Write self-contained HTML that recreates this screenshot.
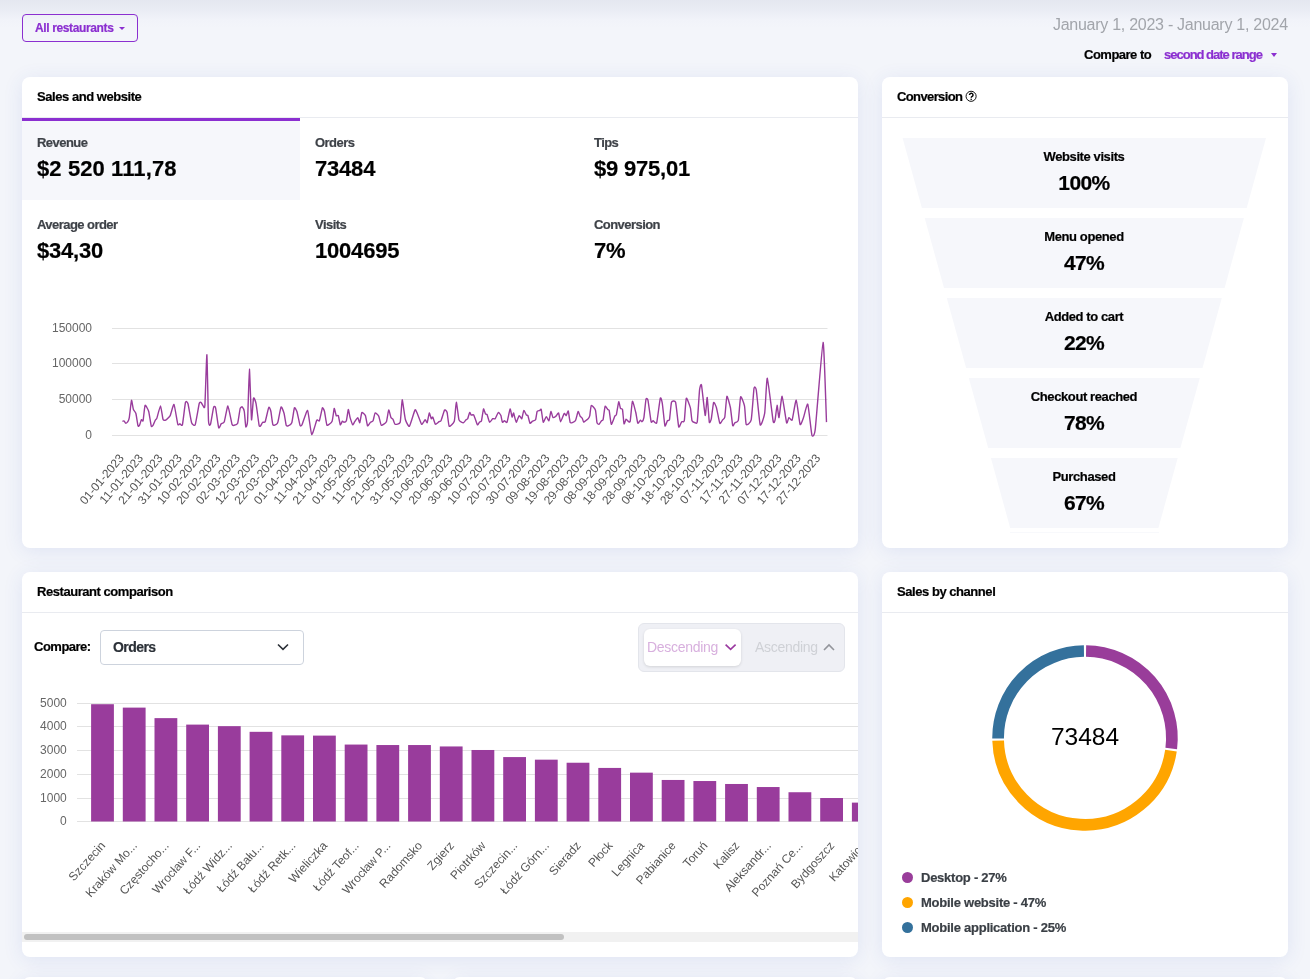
<!DOCTYPE html>
<html><head><meta charset="utf-8">
<style>
html,body{margin:0;padding:0;}
html{width:1310px;height:979px;overflow:hidden;}
body{-webkit-font-smoothing:antialiased;width:1310px;height:979px;overflow:hidden;font-family:"Liberation Sans", sans-serif;background:#f3f5fa;}
#root{position:relative;width:1310px;height:979px;overflow:hidden;background:#f3f5fa;}
.t{position:absolute;white-space:nowrap;will-change:transform;}
.card{position:absolute;background:#fff;border-radius:8px;box-shadow:0 3px 20px rgba(50,80,190,0.10);}
.abs{position:absolute;}
</style></head><body><div id="root">
<div class="abs" style="left:0;top:0;width:1310px;height:70px;background:linear-gradient(#e4e7f0 0px,#e8ebf3 8px,#f1f3f9 20px,#f3f5fa 28px,#f3f5fa 100%);"></div>
<div class="abs" style="left:22px;top:14px;width:114px;height:26px;border:1px solid #8b2fd0;border-radius:4px;"></div>
<div class="t" style="left:34.60px;top:21.74px;font-size:12px;line-height:12px;font-weight:bold;color:#8b2fd0;letter-spacing:-0.37px;-webkit-text-stroke:0.2px currentColor;">All restaurants</div>
<div class="abs" style="left:119px;top:27px;width:0;height:0;border-left:3px solid transparent;border-right:3px solid transparent;border-top:3.5px solid #8b2fd0;"></div>
<div class="t" style="right:22.50px;top:17.26px;font-size:16px;line-height:16px;font-weight:normal;color:#a2a5ab;letter-spacing:-0.27px;">January 1, 2023 - January 1, 2024</div>
<div class="t" style="left:1083.70px;top:47.60px;font-size:13px;line-height:13px;font-weight:bold;color:#000;letter-spacing:-0.5px;-webkit-text-stroke:0.2px currentColor;">Compare to</div>
<div class="t" style="left:1164.20px;top:47.60px;font-size:13px;line-height:13px;font-weight:bold;color:#8b2fd0;letter-spacing:-1.0px;-webkit-text-stroke:0.2px currentColor;">second date range</div>
<div class="abs" style="left:1270.6px;top:53px;width:0;height:0;border-left:3.7px solid transparent;border-right:3.7px solid transparent;border-top:4px solid #8b2fd0;"></div>
<div class="card" style="left:22px;top:77px;width:836px;height:471px;"></div>
<div class="card" style="left:882px;top:77px;width:406px;height:471px;"></div>
<div class="card" style="left:22px;top:572px;width:836px;height:385px;"></div>
<div class="card" style="left:882px;top:572px;width:406px;height:385px;"></div>
<div class="card" style="left:22px;top:977px;width:406px;height:100px;"></div>
<div class="card" style="left:452px;top:977px;width:406px;height:100px;"></div>
<div class="card" style="left:882px;top:977px;width:406px;height:100px;"></div>
<div class="t" style="left:36.70px;top:90.30px;font-size:13px;line-height:13px;font-weight:bold;color:#000;letter-spacing:-0.45px;-webkit-text-stroke:0.2px currentColor;">Sales and website</div>
<div class="abs" style="left:22px;top:117px;width:836px;height:1px;background:#e9ebf0;"></div>
<div class="t" style="left:896.70px;top:90.30px;font-size:13px;line-height:13px;font-weight:bold;color:#000;letter-spacing:-0.62px;-webkit-text-stroke:0.2px currentColor;">Conversion</div>
<div class="abs" style="left:882px;top:117px;width:406px;height:1px;background:#e9ebf0;"></div>
<div class="t" style="left:36.70px;top:585.30px;font-size:13px;line-height:13px;font-weight:bold;color:#000;letter-spacing:-0.45px;-webkit-text-stroke:0.2px currentColor;">Restaurant comparison</div>
<div class="abs" style="left:22px;top:612px;width:836px;height:1px;background:#e9ebf0;"></div>
<div class="t" style="left:896.70px;top:585.30px;font-size:13px;line-height:13px;font-weight:bold;color:#000;letter-spacing:-0.45px;-webkit-text-stroke:0.2px currentColor;">Sales by channel</div>
<div class="abs" style="left:882px;top:612px;width:406px;height:1px;background:#e9ebf0;"></div>
<svg class="abs" style="left:964px;top:89px" width="14" height="14" viewBox="0 0 14 14"><circle cx="7.1" cy="7.3" r="5.05" fill="none" stroke="#111" stroke-width="1"/><path d="M5.5 6.0 A1.75 1.75 0 1 1 8.5 7.2 C7.5 7.8 7.2 8.0 7.2 8.75" fill="none" stroke="#000" stroke-width="1.45"/><rect x="6.5" y="9.7" width="1.4" height="1.2" fill="#000"/></svg>
<div class="abs" style="left:22px;top:121px;width:278px;height:79px;background:#f6f7fb;"></div>
<div class="abs" style="left:22px;top:118px;width:278px;height:3px;background:#8b2fd0;"></div>
<div class="t" style="left:36.60px;top:136.00px;font-size:13px;line-height:13px;font-weight:bold;color:#3e4248;letter-spacing:-0.55px;-webkit-text-stroke:0.2px currentColor;">Revenue</div>
<div class="t" style="left:36.60px;top:157.88px;font-size:22px;line-height:22px;font-weight:bold;color:#000;letter-spacing:0.1px;-webkit-text-stroke:0.2px currentColor;">$2 520 111,78</div>
<div class="t" style="left:315.40px;top:136.00px;font-size:13px;line-height:13px;font-weight:bold;color:#3e4248;letter-spacing:-0.55px;-webkit-text-stroke:0.2px currentColor;">Orders</div>
<div class="t" style="left:315.40px;top:157.88px;font-size:22px;line-height:22px;font-weight:bold;color:#000;letter-spacing:-0.2px;-webkit-text-stroke:0.2px currentColor;">73484</div>
<div class="t" style="left:594.10px;top:136.00px;font-size:13px;line-height:13px;font-weight:bold;color:#3e4248;letter-spacing:-0.55px;-webkit-text-stroke:0.2px currentColor;">Tips</div>
<div class="t" style="left:594.10px;top:157.88px;font-size:22px;line-height:22px;font-weight:bold;color:#000;letter-spacing:-0.2px;-webkit-text-stroke:0.2px currentColor;">$9 975,01</div>
<div class="t" style="left:36.60px;top:218.00px;font-size:13px;line-height:13px;font-weight:bold;color:#3e4248;letter-spacing:-0.55px;-webkit-text-stroke:0.2px currentColor;">Average order</div>
<div class="t" style="left:36.60px;top:240.38px;font-size:22px;line-height:22px;font-weight:bold;color:#000;letter-spacing:-0.2px;-webkit-text-stroke:0.2px currentColor;">$34,30</div>
<div class="t" style="left:315.40px;top:218.00px;font-size:13px;line-height:13px;font-weight:bold;color:#3e4248;letter-spacing:-0.55px;-webkit-text-stroke:0.2px currentColor;">Visits</div>
<div class="t" style="left:315.40px;top:240.38px;font-size:22px;line-height:22px;font-weight:bold;color:#000;letter-spacing:-0.2px;-webkit-text-stroke:0.2px currentColor;">1004695</div>
<div class="t" style="left:594.10px;top:218.00px;font-size:13px;line-height:13px;font-weight:bold;color:#3e4248;letter-spacing:-0.55px;-webkit-text-stroke:0.2px currentColor;">Conversion</div>
<div class="t" style="left:594.10px;top:240.38px;font-size:22px;line-height:22px;font-weight:bold;color:#000;letter-spacing:-0.2px;-webkit-text-stroke:0.2px currentColor;">7%</div>
<svg class="abs" style="left:0;top:0" width="1310" height="979" viewBox="0 0 1310 979"><line x1="112" y1="328.5" x2="827.5" y2="328.5" stroke="#e2e2e2" stroke-width="1"/><text x="92" y="332.3" font-family="Liberation Sans" font-size="12" fill="#666" text-anchor="end">150000</text><line x1="112" y1="363.5" x2="827.5" y2="363.5" stroke="#e2e2e2" stroke-width="1"/><text x="92" y="367.3" font-family="Liberation Sans" font-size="12" fill="#666" text-anchor="end">100000</text><line x1="112" y1="399.5" x2="827.5" y2="399.5" stroke="#e2e2e2" stroke-width="1"/><text x="92" y="403.3" font-family="Liberation Sans" font-size="12" fill="#666" text-anchor="end">50000</text><line x1="112" y1="435.5" x2="827.5" y2="435.5" stroke="#e2e2e2" stroke-width="1"/><text x="92" y="439.3" font-family="Liberation Sans" font-size="12" fill="#666" text-anchor="end">0</text><path d="M122.4 421.2 C122.6 421.2 123.9 420.8 124.2 421.0 C124.5 421.2 125.4 423.1 125.7 423.2 C126.0 423.3 127.5 422.2 127.8 421.7 C128.1 421.2 129.0 419.4 129.3 417.6 C129.6 415.8 131.2 401.0 131.5 400.3 C131.8 399.6 133.0 408.4 133.4 409.5 C133.8 410.6 135.5 412.1 135.9 413.5 C136.3 414.9 137.7 424.8 138.0 425.8 C138.3 426.8 139.2 425.8 139.5 425.3 C139.8 424.8 141.1 420.1 141.4 419.7 C141.7 419.3 142.8 421.9 143.1 420.7 C143.4 419.5 144.6 406.2 145.1 405.4 C145.6 404.6 148.2 409.8 148.7 411.5 C149.2 413.2 150.9 425.2 151.3 426.3 C151.7 427.4 153.0 425.3 153.3 424.8 C153.6 424.3 155.0 420.8 155.3 420.2 C155.6 419.6 156.5 419.3 156.9 418.1 C157.3 416.9 160.0 405.8 160.5 405.9 C161.0 406.0 162.6 418.0 163.0 419.2 C163.4 420.4 165.0 420.5 165.6 420.2 C166.2 419.9 169.5 416.9 170.2 415.6 C170.9 414.3 173.4 403.7 174.0 404.4 C174.6 405.1 177.3 422.7 177.8 424.3 C178.3 425.9 179.5 423.8 179.9 423.8 C180.3 423.8 181.9 426.6 182.4 424.8 C182.9 423.0 185.0 404.1 185.5 402.3 C186.0 400.6 187.5 402.1 188.0 403.8 C188.5 405.5 191.0 420.9 191.6 422.7 C192.2 424.4 194.6 426.4 195.2 424.8 C195.8 423.2 198.8 405.1 199.3 403.3 C199.8 401.5 201.0 402.5 201.3 402.8 C201.6 403.1 203.1 406.2 203.4 406.4 C203.7 406.6 204.6 409.7 204.9 405.4 C205.2 401.1 206.6 353.5 206.9 354.8 C207.2 356.1 208.2 414.9 208.5 420.7 C208.8 426.5 210.1 425.4 210.5 424.3 C210.9 423.2 213.2 408.8 213.6 407.4 C214.0 406.0 215.2 406.2 215.6 407.9 C216.0 409.6 218.2 426.5 218.7 427.8 C219.2 429.1 220.7 424.3 221.2 423.8 C221.7 423.3 223.7 423.2 224.3 421.7 C224.9 420.2 227.3 405.7 227.9 405.9 C228.5 406.1 231.5 422.7 232.0 424.3 C232.5 425.9 233.6 425.4 234.1 425.3 C234.6 425.2 237.2 424.6 237.7 423.2 C238.2 421.8 239.8 409.8 240.2 408.4 C240.6 407.0 242.0 406.6 242.3 406.9 C242.6 407.2 244.0 409.8 244.3 411.5 C244.6 413.2 245.5 426.0 245.8 426.8 C246.1 427.6 247.3 425.5 247.6 420.7 C247.9 415.9 249.1 369.2 249.4 369.1 C249.7 369.0 251.2 417.3 251.5 419.7 C251.8 422.1 253.1 399.6 253.5 398.2 C253.9 396.8 255.5 401.0 256.0 403.3 C256.5 405.6 258.7 423.4 259.1 425.3 C259.5 427.2 260.3 426.1 260.6 425.8 C260.9 425.5 262.3 422.5 262.7 422.2 C263.1 421.9 264.7 422.9 265.2 421.7 C265.7 420.5 268.3 408.2 268.8 407.4 C269.3 406.5 270.6 410.1 270.9 411.5 C271.2 412.9 272.4 423.7 272.9 424.8 C273.4 425.9 276.1 424.6 276.5 424.3 C276.9 424.0 277.6 423.1 278.0 421.7 C278.4 420.2 280.6 407.6 281.1 406.9 C281.6 406.2 283.7 412.0 284.1 413.5 C284.5 415.0 285.9 424.3 286.2 425.3 C286.5 426.3 287.7 426.0 288.2 425.8 C288.7 425.6 291.3 424.2 291.8 422.7 C292.3 421.2 294.0 408.8 294.4 407.9 C294.8 407.0 296.4 410.1 296.9 411.5 C297.4 412.9 299.6 424.2 300.0 425.3 C300.4 426.4 301.4 426.0 302.0 424.8 C302.6 423.6 306.8 409.7 307.6 410.5 C308.4 411.3 310.9 433.7 311.7 434.5 C312.5 435.3 316.2 421.3 316.8 420.2 C317.4 419.1 318.9 421.7 319.4 420.7 C319.9 419.7 322.0 408.7 322.4 407.9 C322.8 407.1 324.1 410.1 324.5 411.5 C324.9 412.9 326.4 424.5 327.0 425.3 C327.6 426.1 331.5 422.6 332.1 421.2 C332.7 419.8 333.9 408.9 334.2 408.4 C334.5 407.9 335.9 415.0 336.2 415.6 C336.5 416.2 338.0 414.8 338.3 415.6 C338.6 416.4 340.0 424.3 340.3 424.8 C340.6 425.3 342.1 421.4 342.4 421.2 C342.7 421.0 343.6 422.2 343.9 422.2 C344.2 422.2 346.0 421.8 346.4 420.7 C346.8 419.6 348.0 409.8 348.3 409.5 C348.6 409.2 349.7 416.3 350.1 417.6 C350.5 418.9 352.3 424.5 352.7 424.8 C353.1 425.1 354.3 422.3 354.7 421.7 C355.1 421.1 357.4 417.5 357.8 417.6 C358.2 417.7 359.5 423.1 359.8 422.7 C360.1 422.3 361.4 413.1 361.9 412.5 C362.4 411.9 364.9 414.5 365.4 415.6 C365.9 416.7 367.1 425.2 367.5 425.8 C367.9 426.4 370.0 422.6 370.5 422.2 C371.0 421.8 372.7 421.5 373.1 420.7 C373.5 419.9 374.6 413.4 375.1 413.0 C375.6 412.6 378.2 415.1 378.7 416.1 C379.2 417.1 380.7 424.8 381.3 425.3 C381.9 425.8 385.8 423.0 386.4 421.7 C387.0 420.4 388.3 410.3 388.7 410.0 C389.1 409.7 390.6 416.8 391.0 417.6 C391.4 418.4 392.7 418.6 393.0 419.2 C393.3 419.8 394.5 424.1 395.1 424.3 C395.7 424.6 399.6 424.2 400.2 422.2 C400.8 420.2 401.8 400.1 402.2 399.8 C402.6 399.6 404.7 417.0 405.3 419.2 C405.9 421.4 408.6 427.1 409.4 426.3 C410.2 425.5 414.3 411.0 415.0 410.0 C415.7 409.0 416.9 412.8 417.5 414.0 C418.1 415.2 421.0 423.8 421.6 424.3 C422.2 424.8 424.7 419.8 425.2 419.7 C425.7 419.6 426.9 423.3 427.2 422.7 C427.5 422.1 429.0 413.3 429.3 413.0 C429.6 412.7 431.0 418.4 431.3 418.7 C431.6 419.0 432.5 416.6 432.8 417.1 C433.1 417.6 434.9 423.9 435.4 424.3 C435.9 424.7 438.5 422.0 439.0 421.7 C439.5 421.4 440.5 421.7 441.0 420.7 C441.5 419.7 444.1 410.7 444.6 410.0 C445.1 409.3 446.7 411.1 447.1 412.5 C447.5 413.9 448.6 425.6 449.2 426.3 C449.8 427.0 453.7 423.2 454.3 421.2 C454.9 419.2 455.9 402.4 456.3 402.3 C456.7 402.2 458.5 418.0 458.9 419.7 C459.3 421.4 461.0 421.9 461.4 422.2 C461.8 422.4 463.2 422.9 463.6 422.7 C464.0 422.5 465.8 420.0 466.1 419.7 C466.4 419.4 467.4 419.3 467.7 418.7 C468.0 418.1 469.4 412.8 469.7 412.5 C470.0 412.2 470.9 414.9 471.2 415.1 C471.5 415.3 473.3 414.3 473.8 415.1 C474.3 415.9 476.9 424.2 477.4 424.8 C477.9 425.4 479.1 422.5 479.4 422.2 C479.7 421.9 481.2 421.8 481.5 420.7 C481.8 419.6 483.2 409.6 483.5 409.0 C483.8 408.4 485.2 413.5 485.5 414.0 C485.8 414.5 486.8 413.9 487.1 414.6 C487.4 415.3 489.1 421.9 489.6 422.2 C490.1 422.5 492.2 419.0 492.7 418.7 C493.2 418.4 494.7 419.2 495.2 418.7 C495.7 418.2 497.8 412.8 498.3 412.5 C498.8 412.2 500.6 414.8 500.9 415.6 C501.2 416.4 502.1 421.8 502.4 422.2 C502.7 422.6 504.0 420.7 504.4 420.7 C504.8 420.7 506.5 423.2 507.0 422.2 C507.5 421.2 509.7 409.4 510.1 409.0 C510.5 408.6 511.8 416.8 512.1 417.1 C512.4 417.4 513.3 412.6 513.6 413.0 C513.9 413.4 515.7 422.0 516.2 422.2 C516.7 422.4 518.7 415.9 519.2 415.6 C519.7 415.3 521.4 419.1 521.8 418.7 C522.2 418.3 523.4 410.8 523.8 410.5 C524.2 410.2 526.1 414.7 526.4 415.1 C526.7 415.5 527.6 414.9 527.9 415.6 C528.2 416.3 529.6 422.7 530.0 423.2 C530.4 423.7 532.0 421.5 532.5 421.2 C533.0 420.9 535.2 420.5 535.6 419.7 C536.0 418.9 536.8 412.3 537.1 411.5 C537.4 410.7 539.4 410.7 539.7 410.5 C540.0 410.3 540.9 408.5 541.2 409.5 C541.5 410.5 542.8 421.6 543.2 422.2 C543.6 422.8 545.8 416.7 546.3 416.6 C546.8 416.5 548.5 421.1 548.9 420.7 C549.3 420.3 550.6 411.8 550.9 411.5 C551.2 411.2 552.6 417.2 553.0 417.6 C553.4 418.0 555.5 416.5 556.0 416.1 C556.5 415.7 558.2 412.5 558.6 413.0 C559.0 413.5 560.1 421.7 560.6 421.7 C561.1 421.7 563.7 414.0 564.2 413.5 C564.7 413.0 565.9 415.8 566.2 415.6 C566.5 415.4 568.0 410.4 568.3 411.0 C568.6 411.6 569.7 421.9 570.3 422.7 C570.9 423.5 574.8 421.6 575.4 420.7 C576.0 419.8 577.7 411.9 578.1 411.5 C578.5 411.1 579.8 415.6 580.1 416.1 C580.4 416.7 581.9 417.6 582.2 418.1 C582.5 418.6 583.4 422.0 583.7 422.2 C584.0 422.4 585.8 420.5 586.2 420.2 C586.6 419.9 588.0 419.1 588.3 418.7 C588.6 418.3 589.5 416.7 589.8 415.6 C590.0 414.5 590.8 405.9 591.3 405.4 C591.8 404.9 594.9 408.6 595.4 410.0 C595.9 411.4 596.7 421.5 597.0 422.7 C597.3 423.9 598.6 424.5 599.0 424.3 C599.4 424.1 601.3 421.1 601.6 420.7 C601.9 420.3 602.8 420.9 603.1 419.7 C603.4 418.5 604.7 407.2 605.1 406.4 C605.5 405.5 607.4 409.2 607.7 409.5 C608.0 409.8 608.9 409.3 609.2 410.5 C609.5 411.7 610.8 423.8 611.3 424.3 C611.8 424.8 614.4 416.9 614.8 416.1 C615.2 415.3 616.1 415.8 616.4 414.6 C616.7 413.4 618.4 402.3 618.7 401.8 C619.0 401.3 620.2 407.8 620.5 408.4 C620.8 409.0 622.2 408.2 622.5 409.5 C622.8 410.8 623.7 423.0 624.0 423.8 C624.3 424.6 625.8 419.4 626.1 419.2 C626.4 419.0 627.8 421.0 628.1 421.2 C628.4 421.4 629.8 422.9 630.2 421.2 C630.6 419.5 631.9 402.0 632.4 401.3 C632.9 400.6 635.3 410.7 635.8 412.5 C636.2 414.3 637.4 422.6 637.8 423.2 C638.2 423.8 640.1 420.3 640.4 420.2 C640.7 420.1 641.6 421.9 641.9 421.7 C642.2 421.5 643.6 419.5 643.9 417.6 C644.2 415.7 645.7 400.6 646.0 399.2 C646.3 397.8 647.6 398.4 648.0 400.3 C648.4 402.2 650.7 420.0 651.1 421.7 C651.5 423.4 652.6 420.6 653.1 420.7 C653.6 420.8 656.1 424.6 656.7 422.7 C657.3 420.8 659.8 399.8 660.3 398.2 C660.8 396.6 661.9 401.0 662.3 403.3 C662.7 405.6 664.5 424.4 664.9 425.8 C665.3 427.2 667.0 421.2 667.4 420.7 C667.8 420.2 669.2 421.2 669.5 419.7 C669.8 418.2 671.0 403.8 671.5 402.3 C672.0 400.9 675.0 400.3 675.6 402.3 C676.2 404.3 678.2 425.2 678.7 426.8 C679.2 428.4 681.2 422.2 681.7 421.7 C682.2 421.2 683.9 422.7 684.3 420.7 C684.7 418.7 685.8 399.3 686.3 398.2 C686.8 397.1 689.9 406.0 690.4 407.9 C690.9 409.8 691.6 419.5 692.0 420.7 C692.4 421.9 694.7 422.6 695.1 422.7 C695.5 422.8 696.9 424.4 697.3 421.6 C697.7 418.8 699.2 392.6 699.6 389.6 C700.0 386.6 701.0 383.0 701.5 385.1 C702.0 387.2 704.7 414.4 705.2 415.4 C705.7 416.4 706.9 396.8 707.2 397.4 C707.5 398.0 709.0 420.3 709.3 422.1 C709.6 423.9 710.9 420.4 711.3 418.8 C711.7 417.2 713.2 403.4 713.6 402.5 C714.0 401.6 715.9 405.8 716.4 407.5 C716.9 409.2 719.3 422.3 719.8 423.3 C720.3 424.3 722.2 420.4 722.6 419.9 C723.0 419.4 724.4 419.1 724.8 417.1 C725.2 415.1 726.4 397.1 726.9 396.3 C727.4 395.5 729.9 405.1 730.4 407.5 C730.9 409.9 732.3 424.2 732.7 425.5 C733.1 426.8 734.4 423.1 734.9 422.7 C735.4 422.3 737.8 422.5 738.3 420.4 C738.8 418.2 740.1 398.1 740.6 396.9 C741.1 395.7 744.0 403.5 744.5 405.8 C745.0 408.1 745.6 423.2 746.2 424.4 C746.8 425.6 750.6 422.9 751.2 419.9 C751.9 416.9 753.6 390.9 754.0 388.4 C754.4 385.9 755.8 387.1 756.3 390.1 C756.8 393.1 759.5 423.0 760.2 424.9 C760.9 426.8 764.1 417.0 764.7 413.1 C765.3 409.2 766.6 377.6 767.3 378.3 C768.0 379.0 772.5 417.5 773.1 421.0 C773.8 424.5 774.8 421.2 775.1 419.9 C775.4 418.6 776.8 405.5 777.1 405.3 C777.4 405.1 778.6 418.4 779.0 417.6 C779.4 416.9 781.5 395.9 782.1 396.3 C782.7 396.7 786.0 420.9 786.6 422.7 C787.2 424.5 788.4 417.8 788.9 417.6 C789.4 417.4 791.6 421.3 792.2 419.9 C792.8 418.4 795.5 399.8 796.2 400.2 C796.9 400.6 799.5 422.9 800.1 424.4 C800.7 425.8 802.9 419.3 803.5 417.6 C804.1 415.9 807.1 402.7 807.8 404.2 C808.5 405.7 811.3 433.0 811.9 435.1 C812.5 437.2 814.4 436.6 815.3 428.9 C816.2 421.2 822.2 343.0 823.1 342.4 C824.0 341.8 826.2 415.5 826.5 422.1" fill="none" stroke="#993c9c" stroke-width="1.4" stroke-linejoin="round"/><text x="124.6" y="458.3" font-family="Liberation Sans" font-size="12" fill="#555" text-anchor="end" transform="rotate(-50 124.6 458.3)">01-01-2023</text><text x="143.9" y="458.3" font-family="Liberation Sans" font-size="12" fill="#555" text-anchor="end" transform="rotate(-50 143.9 458.3)">11-01-2023</text><text x="163.3" y="458.3" font-family="Liberation Sans" font-size="12" fill="#555" text-anchor="end" transform="rotate(-50 163.3 458.3)">21-01-2023</text><text x="182.6" y="458.3" font-family="Liberation Sans" font-size="12" fill="#555" text-anchor="end" transform="rotate(-50 182.6 458.3)">31-01-2023</text><text x="202.0" y="458.3" font-family="Liberation Sans" font-size="12" fill="#555" text-anchor="end" transform="rotate(-50 202.0 458.3)">10-02-2023</text><text x="221.3" y="458.3" font-family="Liberation Sans" font-size="12" fill="#555" text-anchor="end" transform="rotate(-50 221.3 458.3)">20-02-2023</text><text x="240.7" y="458.3" font-family="Liberation Sans" font-size="12" fill="#555" text-anchor="end" transform="rotate(-50 240.7 458.3)">02-03-2023</text><text x="260.0" y="458.3" font-family="Liberation Sans" font-size="12" fill="#555" text-anchor="end" transform="rotate(-50 260.0 458.3)">12-03-2023</text><text x="279.3" y="458.3" font-family="Liberation Sans" font-size="12" fill="#555" text-anchor="end" transform="rotate(-50 279.3 458.3)">22-03-2023</text><text x="298.7" y="458.3" font-family="Liberation Sans" font-size="12" fill="#555" text-anchor="end" transform="rotate(-50 298.7 458.3)">01-04-2023</text><text x="318.0" y="458.3" font-family="Liberation Sans" font-size="12" fill="#555" text-anchor="end" transform="rotate(-50 318.0 458.3)">11-04-2023</text><text x="337.4" y="458.3" font-family="Liberation Sans" font-size="12" fill="#555" text-anchor="end" transform="rotate(-50 337.4 458.3)">21-04-2023</text><text x="356.7" y="458.3" font-family="Liberation Sans" font-size="12" fill="#555" text-anchor="end" transform="rotate(-50 356.7 458.3)">01-05-2023</text><text x="376.1" y="458.3" font-family="Liberation Sans" font-size="12" fill="#555" text-anchor="end" transform="rotate(-50 376.1 458.3)">11-05-2023</text><text x="395.4" y="458.3" font-family="Liberation Sans" font-size="12" fill="#555" text-anchor="end" transform="rotate(-50 395.4 458.3)">21-05-2023</text><text x="414.8" y="458.3" font-family="Liberation Sans" font-size="12" fill="#555" text-anchor="end" transform="rotate(-50 414.8 458.3)">31-05-2023</text><text x="434.1" y="458.3" font-family="Liberation Sans" font-size="12" fill="#555" text-anchor="end" transform="rotate(-50 434.1 458.3)">10-06-2023</text><text x="453.4" y="458.3" font-family="Liberation Sans" font-size="12" fill="#555" text-anchor="end" transform="rotate(-50 453.4 458.3)">20-06-2023</text><text x="472.8" y="458.3" font-family="Liberation Sans" font-size="12" fill="#555" text-anchor="end" transform="rotate(-50 472.8 458.3)">30-06-2023</text><text x="492.1" y="458.3" font-family="Liberation Sans" font-size="12" fill="#555" text-anchor="end" transform="rotate(-50 492.1 458.3)">10-07-2023</text><text x="511.5" y="458.3" font-family="Liberation Sans" font-size="12" fill="#555" text-anchor="end" transform="rotate(-50 511.5 458.3)">20-07-2023</text><text x="530.8" y="458.3" font-family="Liberation Sans" font-size="12" fill="#555" text-anchor="end" transform="rotate(-50 530.8 458.3)">30-07-2023</text><text x="550.2" y="458.3" font-family="Liberation Sans" font-size="12" fill="#555" text-anchor="end" transform="rotate(-50 550.2 458.3)">09-08-2023</text><text x="569.5" y="458.3" font-family="Liberation Sans" font-size="12" fill="#555" text-anchor="end" transform="rotate(-50 569.5 458.3)">19-08-2023</text><text x="588.8" y="458.3" font-family="Liberation Sans" font-size="12" fill="#555" text-anchor="end" transform="rotate(-50 588.8 458.3)">29-08-2023</text><text x="608.2" y="458.3" font-family="Liberation Sans" font-size="12" fill="#555" text-anchor="end" transform="rotate(-50 608.2 458.3)">08-09-2023</text><text x="627.5" y="458.3" font-family="Liberation Sans" font-size="12" fill="#555" text-anchor="end" transform="rotate(-50 627.5 458.3)">18-09-2023</text><text x="646.9" y="458.3" font-family="Liberation Sans" font-size="12" fill="#555" text-anchor="end" transform="rotate(-50 646.9 458.3)">28-09-2023</text><text x="666.2" y="458.3" font-family="Liberation Sans" font-size="12" fill="#555" text-anchor="end" transform="rotate(-50 666.2 458.3)">08-10-2023</text><text x="685.6" y="458.3" font-family="Liberation Sans" font-size="12" fill="#555" text-anchor="end" transform="rotate(-50 685.6 458.3)">18-10-2023</text><text x="704.9" y="458.3" font-family="Liberation Sans" font-size="12" fill="#555" text-anchor="end" transform="rotate(-50 704.9 458.3)">28-10-2023</text><text x="724.2" y="458.3" font-family="Liberation Sans" font-size="12" fill="#555" text-anchor="end" transform="rotate(-50 724.2 458.3)">07-11-2023</text><text x="743.6" y="458.3" font-family="Liberation Sans" font-size="12" fill="#555" text-anchor="end" transform="rotate(-50 743.6 458.3)">17-11-2023</text><text x="762.9" y="458.3" font-family="Liberation Sans" font-size="12" fill="#555" text-anchor="end" transform="rotate(-50 762.9 458.3)">27-11-2023</text><text x="782.3" y="458.3" font-family="Liberation Sans" font-size="12" fill="#555" text-anchor="end" transform="rotate(-50 782.3 458.3)">07-12-2023</text><text x="801.6" y="458.3" font-family="Liberation Sans" font-size="12" fill="#555" text-anchor="end" transform="rotate(-50 801.6 458.3)">17-12-2023</text><text x="821.0" y="458.3" font-family="Liberation Sans" font-size="12" fill="#555" text-anchor="end" transform="rotate(-50 821.0 458.3)">27-12-2023</text></svg>
<svg class="abs" style="left:0;top:0" width="1310" height="979" viewBox="0 0 1310 979"><polygon points="902.6,138 1266.0,138 1246.7,208 921.9,208" fill="#f6f7fb"/><polygon points="924.7,218 1243.9,218 1224.6,288 944.0,288" fill="#f6f7fb"/><polygon points="946.8,298 1221.8,298 1202.5,368 966.1,368" fill="#f6f7fb"/><polygon points="968.8,378 1199.8,378 1180.4,448 988.2,448" fill="#f6f7fb"/><polygon points="990.9,458 1177.7,458 1158.4,528 1010.2,528" fill="#f6f7fb"/><line x1="1010" y1="532.5" x2="1159" y2="532.5" stroke="#f8f9fc" stroke-width="1"/></svg>
<div class="t" style="left:784.30px;width:600px;text-align:center;top:149.80px;font-size:13px;line-height:13px;font-weight:bold;color:#000;letter-spacing:-0.4px;-webkit-text-stroke:0.2px currentColor;">Website visits</div>
<div class="t" style="left:784.30px;width:600px;text-align:center;top:172.32px;font-size:21px;line-height:21px;font-weight:bold;color:#000;letter-spacing:-0.6px;-webkit-text-stroke:0.2px currentColor;">100%</div>
<div class="t" style="left:784.30px;width:600px;text-align:center;top:229.80px;font-size:13px;line-height:13px;font-weight:bold;color:#000;letter-spacing:-0.4px;-webkit-text-stroke:0.2px currentColor;">Menu opened</div>
<div class="t" style="left:784.30px;width:600px;text-align:center;top:252.32px;font-size:21px;line-height:21px;font-weight:bold;color:#000;letter-spacing:-0.6px;-webkit-text-stroke:0.2px currentColor;">47%</div>
<div class="t" style="left:784.30px;width:600px;text-align:center;top:309.80px;font-size:13px;line-height:13px;font-weight:bold;color:#000;letter-spacing:-0.4px;-webkit-text-stroke:0.2px currentColor;">Added to cart</div>
<div class="t" style="left:784.30px;width:600px;text-align:center;top:332.32px;font-size:21px;line-height:21px;font-weight:bold;color:#000;letter-spacing:-0.6px;-webkit-text-stroke:0.2px currentColor;">22%</div>
<div class="t" style="left:784.30px;width:600px;text-align:center;top:389.80px;font-size:13px;line-height:13px;font-weight:bold;color:#000;letter-spacing:-0.4px;-webkit-text-stroke:0.2px currentColor;">Checkout reached</div>
<div class="t" style="left:784.30px;width:600px;text-align:center;top:412.32px;font-size:21px;line-height:21px;font-weight:bold;color:#000;letter-spacing:-0.6px;-webkit-text-stroke:0.2px currentColor;">78%</div>
<div class="t" style="left:784.30px;width:600px;text-align:center;top:469.80px;font-size:13px;line-height:13px;font-weight:bold;color:#000;letter-spacing:-0.4px;-webkit-text-stroke:0.2px currentColor;">Purchased</div>
<div class="t" style="left:784.30px;width:600px;text-align:center;top:492.32px;font-size:21px;line-height:21px;font-weight:bold;color:#000;letter-spacing:-0.6px;-webkit-text-stroke:0.2px currentColor;">67%</div>
<div class="t" style="left:33.70px;top:640.20px;font-size:13px;line-height:13px;font-weight:bold;color:#000;letter-spacing:-0.5px;-webkit-text-stroke:0.2px currentColor;">Compare:</div>
<div class="abs" style="left:100px;top:630px;width:202px;height:33px;border:1px solid #cdd3dd;border-radius:4px;"></div>
<div class="t" style="left:113.00px;top:640.35px;font-size:14px;line-height:14px;font-weight:bold;color:#2b3037;letter-spacing:-0.55px;-webkit-text-stroke:0.2px currentColor;">Orders</div>
<svg class="abs" style="left:276px;top:641px" width="14" height="10" viewBox="0 0 14 10"><polyline points="2,3.5 7,8.4 12,3.5" fill="none" stroke="#2b3037" stroke-width="1.6"/></svg>
<div class="abs" style="left:638px;top:623px;width:205px;height:47px;background:#eff0f5;border:1px solid #e3e5eb;border-radius:6px;"></div>
<div class="abs" style="left:644px;top:629px;width:97px;height:37px;background:#fff;border-radius:6px;box-shadow:0 1px 3px rgba(0,0,0,0.12);"></div>
<div class="t" style="left:647.00px;top:640.35px;font-size:14px;line-height:14px;font-weight:normal;color:#d8b0de;letter-spacing:-0.3px;">Descending</div>
<svg class="abs" style="left:723px;top:642px" width="14" height="10" viewBox="0 0 14 10"><polyline points="2.6,2.6 7.6,7.4 12.6,2.6" fill="none" stroke="#9b3aa0" stroke-width="1.6"/></svg>
<div class="t" style="left:755.00px;top:640.35px;font-size:14px;line-height:14px;font-weight:normal;color:#cfd1d6;letter-spacing:-0.3px;">Ascending</div>
<svg class="abs" style="left:822px;top:642px" width="14" height="10" viewBox="0 0 14 10"><polyline points="2,8 7,3 12,8" fill="none" stroke="#93959b" stroke-width="1.6"/></svg>
<div class="abs" style="left:22px;top:680px;width:836px;height:250px;overflow:hidden;"><svg class="abs" style="left:-22px;top:-680px" width="1310" height="979" viewBox="0 0 1310 979"><line x1="77" y1="821.5" x2="870" y2="821.5" stroke="#e2e2e2" stroke-width="1"/><text x="66.8" y="824.8" font-family="Liberation Sans" font-size="12" fill="#666" text-anchor="end">0</text><line x1="77" y1="798.5" x2="870" y2="798.5" stroke="#e2e2e2" stroke-width="1"/><text x="66.8" y="801.8" font-family="Liberation Sans" font-size="12" fill="#666" text-anchor="end">1000</text><line x1="77" y1="774.5" x2="870" y2="774.5" stroke="#e2e2e2" stroke-width="1"/><text x="66.8" y="777.8" font-family="Liberation Sans" font-size="12" fill="#666" text-anchor="end">2000</text><line x1="77" y1="750.5" x2="870" y2="750.5" stroke="#e2e2e2" stroke-width="1"/><text x="66.8" y="753.8" font-family="Liberation Sans" font-size="12" fill="#666" text-anchor="end">3000</text><line x1="77" y1="726.5" x2="870" y2="726.5" stroke="#e2e2e2" stroke-width="1"/><text x="66.8" y="729.8" font-family="Liberation Sans" font-size="12" fill="#666" text-anchor="end">4000</text><line x1="77" y1="703.5" x2="870" y2="703.5" stroke="#e2e2e2" stroke-width="1"/><text x="66.8" y="706.8" font-family="Liberation Sans" font-size="12" fill="#666" text-anchor="end">5000</text><rect x="91.10" y="704.21" width="22.8" height="117.29" fill="#993c9c"/><text x="106.0" y="846" font-family="Liberation Sans" font-size="12" fill="#555" text-anchor="end" transform="rotate(-48 106.0 846)">Szczecin</text><rect x="122.80" y="707.61" width="22.8" height="113.89" fill="#993c9c"/><text x="137.7" y="846" font-family="Liberation Sans" font-size="12" fill="#555" text-anchor="end" transform="rotate(-48 137.7 846)">Kraków Mo...</text><rect x="154.50" y="718.13" width="22.8" height="103.37" fill="#993c9c"/><text x="169.4" y="846" font-family="Liberation Sans" font-size="12" fill="#555" text-anchor="end" transform="rotate(-48 169.4 846)">Częstocho...</text><rect x="186.20" y="724.60" width="22.8" height="96.90" fill="#993c9c"/><text x="201.1" y="846" font-family="Liberation Sans" font-size="12" fill="#555" text-anchor="end" transform="rotate(-48 201.1 846)">Wrocław F...</text><rect x="217.90" y="726.16" width="22.8" height="95.34" fill="#993c9c"/><text x="232.8" y="846" font-family="Liberation Sans" font-size="12" fill="#555" text-anchor="end" transform="rotate(-48 232.8 846)">Łódź Widz...</text><rect x="249.60" y="731.82" width="22.8" height="89.68" fill="#993c9c"/><text x="264.5" y="846" font-family="Liberation Sans" font-size="12" fill="#555" text-anchor="end" transform="rotate(-48 264.5 846)">Łódź Bału...</text><rect x="281.30" y="735.36" width="22.8" height="86.14" fill="#993c9c"/><text x="296.2" y="846" font-family="Liberation Sans" font-size="12" fill="#555" text-anchor="end" transform="rotate(-48 296.2 846)">Łódź Retk...</text><rect x="313.00" y="735.60" width="22.8" height="85.90" fill="#993c9c"/><text x="327.9" y="846" font-family="Liberation Sans" font-size="12" fill="#555" text-anchor="end" transform="rotate(-48 327.9 846)">Wieliczka</text><rect x="344.70" y="744.56" width="22.8" height="76.94" fill="#993c9c"/><text x="359.6" y="846" font-family="Liberation Sans" font-size="12" fill="#555" text-anchor="end" transform="rotate(-48 359.6 846)">Łódź Teof...</text><rect x="376.40" y="745.04" width="22.8" height="76.46" fill="#993c9c"/><text x="391.3" y="846" font-family="Liberation Sans" font-size="12" fill="#555" text-anchor="end" transform="rotate(-48 391.3 846)">Wrocław P...</text><rect x="408.10" y="745.04" width="22.8" height="76.46" fill="#993c9c"/><text x="423.0" y="846" font-family="Liberation Sans" font-size="12" fill="#555" text-anchor="end" transform="rotate(-48 423.0 846)">Radomsko</text><rect x="439.80" y="746.45" width="22.8" height="75.05" fill="#993c9c"/><text x="454.7" y="846" font-family="Liberation Sans" font-size="12" fill="#555" text-anchor="end" transform="rotate(-48 454.7 846)">Zgierz</text><rect x="471.50" y="749.99" width="22.8" height="71.51" fill="#993c9c"/><text x="486.4" y="846" font-family="Liberation Sans" font-size="12" fill="#555" text-anchor="end" transform="rotate(-48 486.4 846)">Piotrków</text><rect x="503.20" y="757.07" width="22.8" height="64.43" fill="#993c9c"/><text x="518.1" y="846" font-family="Liberation Sans" font-size="12" fill="#555" text-anchor="end" transform="rotate(-48 518.1 846)">Szczecin...</text><rect x="534.90" y="759.67" width="22.8" height="61.83" fill="#993c9c"/><text x="549.8" y="846" font-family="Liberation Sans" font-size="12" fill="#555" text-anchor="end" transform="rotate(-48 549.8 846)">Łódź Górn...</text><rect x="566.60" y="762.74" width="22.8" height="58.76" fill="#993c9c"/><text x="581.5" y="846" font-family="Liberation Sans" font-size="12" fill="#555" text-anchor="end" transform="rotate(-48 581.5 846)">Sieradz</text><rect x="598.30" y="767.93" width="22.8" height="53.57" fill="#993c9c"/><text x="613.2" y="846" font-family="Liberation Sans" font-size="12" fill="#555" text-anchor="end" transform="rotate(-48 613.2 846)">Płock</text><rect x="630.00" y="772.65" width="22.8" height="48.85" fill="#993c9c"/><text x="644.9" y="846" font-family="Liberation Sans" font-size="12" fill="#555" text-anchor="end" transform="rotate(-48 644.9 846)">Legnica</text><rect x="661.70" y="779.96" width="22.8" height="41.54" fill="#993c9c"/><text x="676.6" y="846" font-family="Liberation Sans" font-size="12" fill="#555" text-anchor="end" transform="rotate(-48 676.6 846)">Pabianice</text><rect x="693.40" y="781.03" width="22.8" height="40.47" fill="#993c9c"/><text x="708.3" y="846" font-family="Liberation Sans" font-size="12" fill="#555" text-anchor="end" transform="rotate(-48 708.3 846)">Toruń</text><rect x="725.10" y="783.98" width="22.8" height="37.52" fill="#993c9c"/><text x="740.0" y="846" font-family="Liberation Sans" font-size="12" fill="#555" text-anchor="end" transform="rotate(-48 740.0 846)">Kalisz</text><rect x="756.80" y="787.04" width="22.8" height="34.46" fill="#993c9c"/><text x="771.7" y="846" font-family="Liberation Sans" font-size="12" fill="#555" text-anchor="end" transform="rotate(-48 771.7 846)">Aleksandr...</text><rect x="788.50" y="792.24" width="22.8" height="29.26" fill="#993c9c"/><text x="803.4" y="846" font-family="Liberation Sans" font-size="12" fill="#555" text-anchor="end" transform="rotate(-48 803.4 846)">Poznań Ce...</text><rect x="820.20" y="798.02" width="22.8" height="23.48" fill="#993c9c"/><text x="835.1" y="846" font-family="Liberation Sans" font-size="12" fill="#555" text-anchor="end" transform="rotate(-48 835.1 846)">Bydgoszcz</text><rect x="851.90" y="802.62" width="22.8" height="18.88" fill="#993c9c"/><text x="866.8" y="846" font-family="Liberation Sans" font-size="12" fill="#555" text-anchor="end" transform="rotate(-48 866.8 846)">Katowice</text></svg></div>
<div class="abs" style="left:22px;top:932px;width:836px;height:10px;background:#f1f1f1;"></div>
<div class="abs" style="left:24px;top:934px;width:540px;height:6px;background:#c1c1c1;border-radius:3px;"></div>
<svg class="abs" style="left:0;top:0" width="1310" height="979" viewBox="0 0 1310 979"><path d="M1086.06 651.01 A86.9 86.9 0 0 1 1171.25 748.49" fill="none" stroke="#993d9a" stroke-width="11.7"/><path d="M1170.97 750.59 A86.9 86.9 0 0 1 998.14 740.63" fill="none" stroke="#ffa500" stroke-width="11.7"/><path d="M998.10 738.51 A86.9 86.9 0 0 1 1083.94 651.01" fill="none" stroke="#34719c" stroke-width="11.7"/><text x="1085.0" y="745" font-family="Liberation Sans" font-size="24.5" fill="#000" text-anchor="middle">73484</text></svg>
<div class="abs" style="left:901.5px;top:871.8px;width:11px;height:11px;border-radius:50%;background:#993d9a;"></div>
<div class="t" style="left:920.60px;top:871.10px;font-size:13px;line-height:13px;font-weight:bold;color:#3a3f45;letter-spacing:-0.25px;-webkit-text-stroke:0.2px currentColor;">Desktop - 27%</div>
<div class="abs" style="left:901.5px;top:896.8px;width:11px;height:11px;border-radius:50%;background:#ffa500;"></div>
<div class="t" style="left:920.60px;top:896.10px;font-size:13px;line-height:13px;font-weight:bold;color:#3a3f45;letter-spacing:-0.25px;-webkit-text-stroke:0.2px currentColor;">Mobile website - 47%</div>
<div class="abs" style="left:901.5px;top:921.8px;width:11px;height:11px;border-radius:50%;background:#34719c;"></div>
<div class="t" style="left:920.60px;top:921.10px;font-size:13px;line-height:13px;font-weight:bold;color:#3a3f45;letter-spacing:-0.25px;-webkit-text-stroke:0.2px currentColor;">Mobile application - 25%</div>
</div></body></html>
